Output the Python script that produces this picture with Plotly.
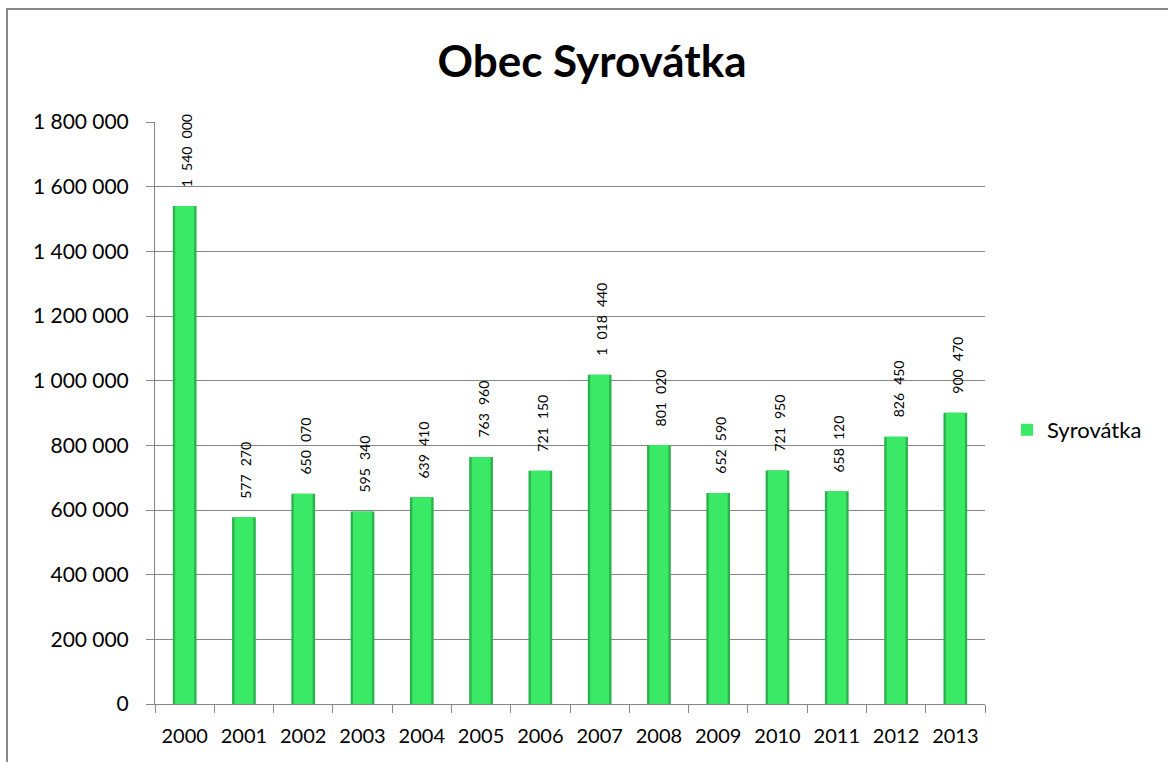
import plotly.graph_objects as go

# Annual values for the municipality
years = ["2000", "2001", "2002", "2003", "2004", "2005", "2006",
         "2007", "2008", "2009", "2010", "2011", "2012", "2013"]
values = [1540000, 577270, 650070, 595340, 639410, 763960, 721150,
          1018440, 801020, 652590, 721950, 658120, 826450, 900470]
series_name = "Syrovátka"
title_text = "Obec Syrovátka"
y_ticks = list(range(0, 1800001, 200000))


def fmt(v, sep):
    return f"{v:,}".replace(",", sep)


FONT = "Lato, 'Open Sans', sans-serif"
GRID = "#868686"

fig = go.Figure()

# darker outer bar gives the bevelled edge, brighter inner bar the face
fig.add_trace(go.Bar(
    x=years, y=values, width=0.40,
    marker=dict(color="#2BB24D", line=dict(width=0)),
    showlegend=False, hoverinfo="skip",
))
fig.add_trace(go.Bar(
    x=years, y=values, width=0.32, name=series_name,
    marker=dict(color="#3AEA66", line=dict(width=0)),
))

# value labels above each bar (category index used as x position)
for i, v in enumerate(values):
    fig.add_annotation(
        x=i, y=v, text=fmt(v, "\u2007"), textangle=-90,
        showarrow=False, xanchor="center", yanchor="bottom",
        yshift=17, xshift=2,
        font=dict(family=FONT, size=14, color="#000000"),
    )

# chart frame
L, R, T, B, W, H = 155, 985, 122, 704, 1168, 762
pw, ph = R - L, B - T
fig.add_shape(
    type="rect", xref="paper", yref="paper",
    x0=(7 - L) / pw, x1=(W + 10 - L) / pw,
    y0=(B - (H + 10)) / ph, y1=(B - 9) / ph,
    line=dict(color="#888888", width=2), fillcolor="rgba(0,0,0,0)",
    layer="below",
)

fig.update_layout(
    width=W, height=H,
    margin=dict(l=L, r=W - R, t=T, b=H - B, autoexpand=False),
    paper_bgcolor="white", plot_bgcolor="white",
    barmode="overlay",
    font=dict(family=FONT, size=20, color="#000000"),
    title=dict(
        text="<b>" + title_text + "</b>",
        x=592 / W, xanchor="center", y=1 - 62 / H, yanchor="middle",
        font=dict(family=FONT, size=44, color="#000000"),
    ),
    legend=dict(
        x=(1007 - L) / pw, xanchor="left", y=(B - 430) / ph, yanchor="middle",
        font=dict(family=FONT, size=22, color="#000000"),
        bgcolor="rgba(0,0,0,0)",
    ),
    xaxis=dict(
        type="category", tickson="boundaries",
        categoryorder="array", categoryarray=years,
        range=[-0.5, len(years) - 0.5], autorange=False,
        ticks="outside", ticklen=8, tickcolor=GRID, tickwidth=1,
        showline=True, linecolor=GRID, linewidth=1,
        showgrid=False, tickfont=dict(size=20), tickangle=0,
        ticklabelstandoff=14,
    ),
    yaxis=dict(
        range=[0, 1800000], tickvals=y_ticks,
        ticktext=[fmt(v, "\u2005") for v in y_ticks],
        ticks="outside", ticklen=8, tickcolor=GRID, tickwidth=1,
        showline=True, linecolor=GRID, linewidth=1,
        showgrid=True, gridcolor=GRID, gridwidth=1,
        zeroline=False, tickfont=dict(size=21),
        ticklabelstandoff=13,
    ),
)

fig.write_html("out.html")
